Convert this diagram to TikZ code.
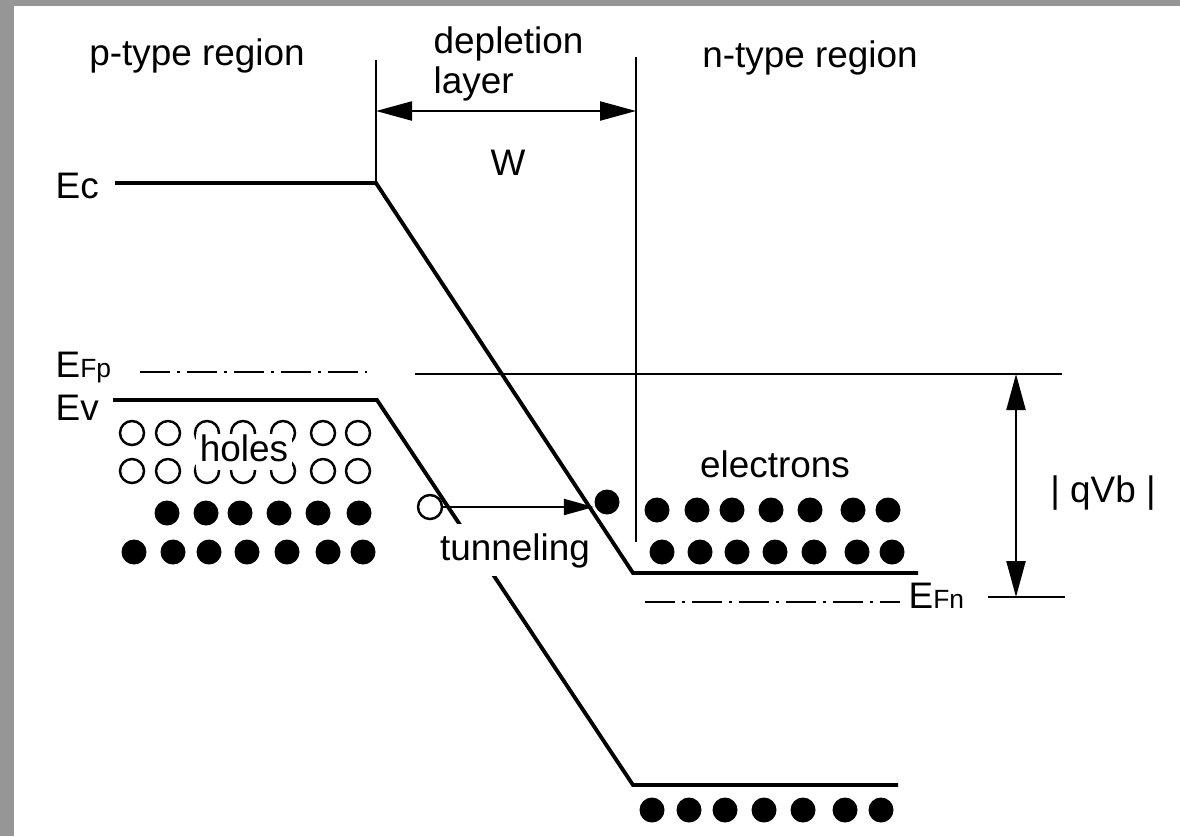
\documentclass[tikz,border=0pt]{standalone}
\usepackage{fontspec}
\setmainfont{Liberation Sans}
\usepackage{xcolor}
\usetikzlibrary{arrows.meta}
\definecolor{scangray}{RGB}{150,150,150}
\newcommand{\fsub}[1]{{\fontsize{7.5}{9}\selectfont #1}}

\begin{document}
\begin{tikzpicture}[x=0.1mm, y=-0.1mm,
    txt/.style={inner sep=0pt, font=\fontsize{10.5}{12}\selectfont},
    band/.style={line width=1.1pt},
    guide/.style={line width=0.65pt},
    fermi/.style={line width=0.8pt, dash pattern=on 3mm off 0.7mm on 0.3mm off 0.7mm},
    dimarrow/.style={line width=0.65pt, {Triangle[length=3.6mm,width=1.9mm]}-{Triangle[length=3.6mm,width=1.9mm]}},
    tunarrow/.style={line width=0.65pt, -{Triangle[length=3mm,width=1.6mm]}},
    hole/.style={line width=0.7pt},
    holenode/.style={circle, draw, line width=0.7pt, minimum size=2.4mm, inner sep=0pt},
    elecnode/.style={circle, fill, minimum size=2.5mm, inner sep=0pt}]
    % Scanned page: gray margin at left and top
    \fill[scangray] (0,0) rectangle (1180,836);
    \fill[white] (14,6) rectangle (1180,836);
    \useasboundingbox (0,0) rectangle (1180,836);

    % Region labels
    \node[txt, anchor=base] (ptype) at (197,65) {p-type region};
    \node[txt, anchor=base west] (depl) at (433,53) {depletion};
    \node[txt, anchor=base west] (layer) at (433,93) {layer};
    \node[txt, anchor=base] (ntype) at (810,67) {n-type region};

    % Depletion layer edges and width W
    \coordinate (wtopL) at (376,60);
    \coordinate (wbotL) at (376,181);
    \coordinate (wtopR) at (636,57);
    \coordinate (wbotR) at (636,542);
    \draw[guide] (wtopL) -- (wbotL);
    \draw[guide] (wtopR) -- (wbotR);
    \coordinate (wL) at (376,111);
    \coordinate (wR) at (636,111);
    \draw[dimarrow] (wL) -- (wR);
    \node[txt, anchor=base] (W) at (508,175) {W};

    % Conduction band Ec
    \node[txt, anchor=base west] (Ec) at (55,198) {Ec};
    \coordinate (ecA) at (115,183);
    \coordinate (ecB) at (376,183);
    \coordinate (ecC) at (633,573);
    \coordinate (ecD) at (918,573);
    \draw[band] (ecA) -- (ecB) -- (ecC) -- (ecD);

    % Valence band Ev
    \node[txt, anchor=base west] (Ev) at (55,420) {Ev};
    \coordinate (evA) at (113,400);
    \coordinate (evB) at (377,400);
    \coordinate (evC) at (633,785);
    \coordinate (evD) at (898,785);
    \draw[band] (evA) -- (evB) -- (evC) -- (evD);

    % Quasi-Fermi levels
    \node[txt, anchor=base west] (EFp) at (55,377) {E\fsub{Fp}};
    \coordinate (fpA) at (140,372);
    \coordinate (fpB) at (367,372);
    \draw[fermi] (fpA) -- (fpB);
    \coordinate (fpC) at (415,374);
    \coordinate (fpD) at (1062,374);
    \draw[guide] (fpC) -- (fpD);
    \node[txt, anchor=base west] (EFn) at (908,608) {E\fsub{Fn}};
    \coordinate (fnA) at (645,602);
    \coordinate (fnB) at (900,602);
    \draw[fermi] (fnA) -- (fnB);
    \coordinate (fnC) at (988,597);
    \coordinate (fnD) at (1065,597);
    \draw[guide] (fnC) -- (fnD);

    % Bias |qVb|
    \coordinate (vbT) at (1016,374);
    \coordinate (vbB) at (1016,597);
    \draw[dimarrow] (vbT) -- (vbB);
    \node[txt, anchor=base] (qVb) at (1103,502) {|\ qVb\ |};

    % Holes (p side)
    \foreach \x in {132,168,207,243,283,323,358} {
        \foreach \y in {433,471} {
            \draw[hole] (\x,\y) circle (1.2mm);
        }
    }
    \node[txt, fill=white, inner xsep=1pt, text depth=0.9mm, anchor=base] (holes) at (244,461) {holes};

    % Electrons in the valence band (p side)
    \foreach \x in {167,206,240,279,318,359}
        \fill (\x,513) circle (1.25mm);
    \foreach \x in {134,173,209,247,287,328,363}
        \fill (\x,552) circle (1.25mm);

    % Electrons (n side)
    \node[txt, anchor=base] (electrons) at (775,477) {electrons};
    \foreach \x in {657,697,732,771,810,853,888}
        \fill (\x,510) circle (1.25mm);
    \foreach \x in {662,700,737,775,814,857,892}
        \fill (\x,552) circle (1.25mm);
    \foreach \x in {652,689,725,764,803,845,881}
        \fill (\x,810) circle (1.25mm);

    % Tunneling
    \node[holenode] (h0) at (430,507) {};
    \node[elecnode] (e0) at (607,502) {};
    \draw[tunarrow] (h0.east) -- (h0.east -| e0.west);
    \node[txt, fill=white, inner sep=2.5pt, anchor=base] (tun) at (515,560) {tunneling};
\end{tikzpicture}
\end{document}
